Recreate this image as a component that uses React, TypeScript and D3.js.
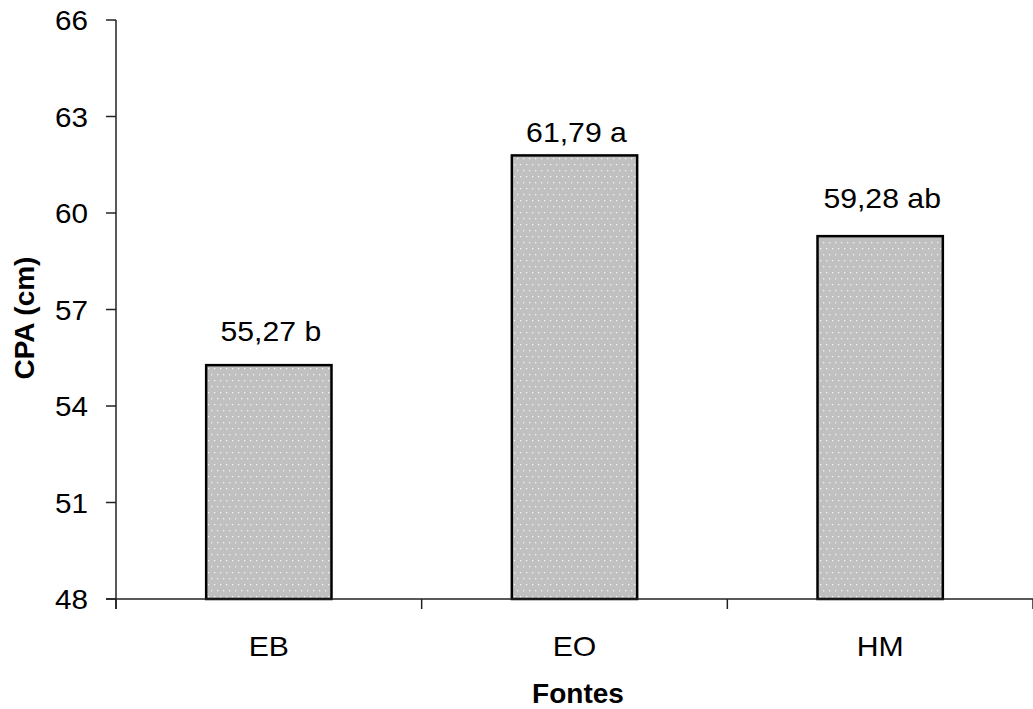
import React from "react";
import * as d3 from "d3";

const categories = ["EB", "EO", "HM"];
const values = [55.27, 61.79, 59.28];
const labels = ["55,27 b", "61,79 a", "59,28 ab"];
const yTicks = [48, 51, 54, 57, 60, 63, 66];

// label baseline gap above each bar top (px), as placed in the reference
const labelGap = [24, 13, 28];

const W = 1033;
const H = 709;
const left = 116;
const right = 1033;
const top = 20;
const bottom = 599;
const font = "'Liberation Sans', Arial, sans-serif";
const SX = 1.06;

function T(props: {
  x: number;
  y: number;
  anchor: "start" | "middle" | "end";
  size: number;
  bold?: boolean;
  sx?: number;
  children: React.ReactNode;
}) {
  return (
    <text
      transform={`translate(${props.x},${props.y}) scale(${props.sx ?? SX},1)`}
      textAnchor={props.anchor}
      fontFamily={font}
      fontSize={props.size}
      fontWeight={props.bold ? "bold" : "normal"}
      fill="#000"
    >
      {props.children}
    </text>
  );
}

export default function App() {
  const x = d3
    .scaleBand<string>()
    .domain(categories)
    .range([left, right])
    .paddingInner(0.59)
    .paddingOuter(0.295);
  const y = d3.scaleLinear().domain([48, 66]).range([bottom, top]);
  const step = (right - left) / categories.length;
  const boundaries = d3.range(categories.length + 1).map((i) => left + i * step);

  return (
    <svg
      width={W}
      height={H}
      style={{ position: "absolute", left: 0, top: 0, background: "#fff" }}
    >
      <defs>
        <pattern id="dots" width={6} height={12} patternUnits="userSpaceOnUse">
          <rect width={6} height={12} fill="#c0c0c0" />
          <rect x={1} y={2} width={1.3} height={1.3} fill="#f4f4f4" />
          <rect x={4} y={8} width={1.3} height={1.3} fill="#f4f4f4" />
        </pattern>
      </defs>
      {categories.map((c, i) => {
        const cx = (x(c) as number) + x.bandwidth() / 2;
        return (
          <g key={c}>
            <rect
              x={x(c)}
              y={y(values[i])}
              width={x.bandwidth()}
              height={bottom - y(values[i])}
              fill="url(#dots)"
              stroke="#000"
              strokeWidth={2.5}
            />
            <T x={cx + 2} y={y(values[i]) - labelGap[i]} anchor="middle" size={28.5}>
              {labels[i]}
            </T>
            <T x={cx} y={656} anchor="middle" size={28.5}>
              {c}
            </T>
          </g>
        );
      })}
      {/* y axis */}
      <line x1={left} x2={left} y1={top} y2={bottom + 10} stroke="#222" strokeWidth={1.5} />
      {yTicks.map((t) => (
        <g key={t}>
          <line x1={left - 10} x2={left} y1={y(t)} y2={y(t)} stroke="#222" strokeWidth={1.5} />
          <T x={88} y={y(t) + 10} anchor="end" size={28}>
            {t}
          </T>
        </g>
      ))}
      {/* x axis */}
      <line x1={left - 10} x2={right} y1={bottom} y2={bottom} stroke="#222" strokeWidth={1.5} />
      {boundaries.map((b, i) => (
        <line key={i} x1={b} x2={b} y1={bottom} y2={bottom + 10} stroke="#222" strokeWidth={1.5} />
      ))}
      <T x={578} y={703} anchor="middle" size={28} bold sx={1}>
        Fontes
      </T>
      <text
        transform={`translate(34, 318) rotate(-90)`}
        textAnchor="middle"
        fontFamily={font}
        fontSize={28}
        fontWeight="bold"
        fill="#000"
      >
        CPA (cm)
      </text>
    </svg>
  );
}
